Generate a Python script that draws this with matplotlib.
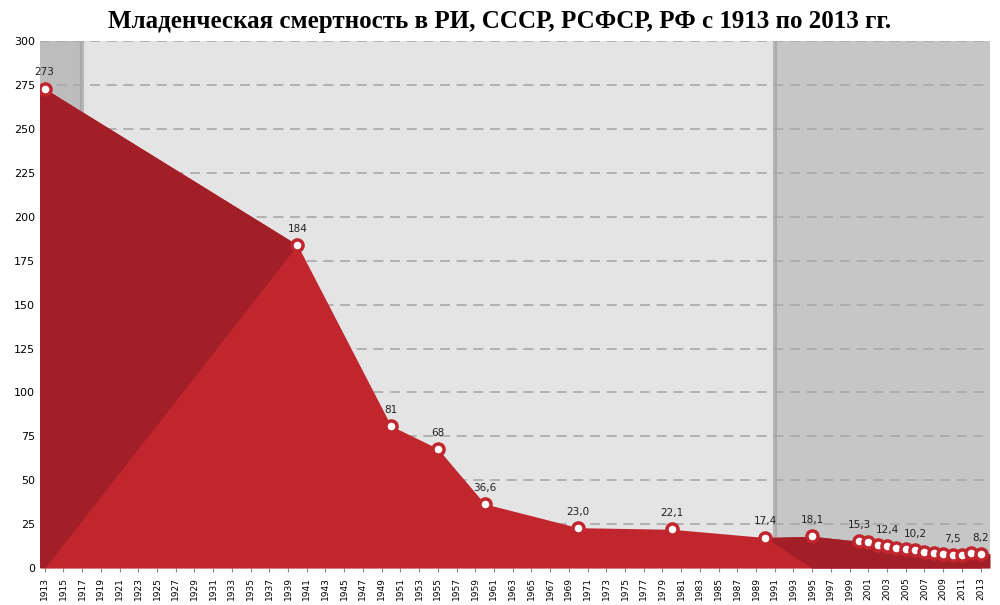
import matplotlib
matplotlib.use("Agg")
import matplotlib.pyplot as plt
import numpy as np

years = [1913, 1940, 1950, 1955, 1960, 1970, 1980, 1990, 1995,
         2000, 2001, 2002, 2003, 2004, 2005, 2006, 2007, 2008, 2009, 2010, 2011, 2012, 2013]
values = [273, 184, 81, 68, 36.6, 23.0, 22.1, 17.4, 18.1,
          15.3, 14.6, 13.3, 12.4, 11.6, 11.0, 10.2, 9.4, 8.5, 8.1, 7.5, 7.4, 8.6, 8.2]
labels = {1913: "273", 1940: "184", 1950: "81", 1955: "68", 1960: "36,6", 1970: "23,0",
          1980: "22,1", 1990: "17,4", 1995: "18,1", 2000: "15,3", 2003: "12,4",
          2006: "10,2", 2010: "7,5", 2013: "8,2"}

fig = plt.figure(figsize=(10, 6.05), dpi=100)
fig.patch.set_facecolor("white")
ax = fig.add_axes([0.040, 0.061, 0.950, 0.871])
ax.set_xlim(1912.5, 2014)
ax.set_ylim(0, 300)

ax.axvspan(1912.5, 1917, color="#bdbdbd", zorder=0)
ax.axvspan(1917, 1991, color="#e4e4e4", zorder=0)
ax.axvspan(1991, 2014, color="#c6c6c6", zorder=0)
ax.axvline(1917, color="#9a9a9a", lw=3, zorder=0.5, alpha=0.6)
ax.axvline(1991, color="#9a9a9a", lw=3, zorder=0.5, alpha=0.6)
for y in range(25, 301, 25):
    ax.axhline(y, color="#a8a8a8", lw=1.2, ls=(0, (6, 4)), zorder=1)

x = np.array(years, float); v = np.array(values)
ax.fill_between(x, v, color="#c1262f", zorder=2, lw=0)
xa = np.array([1912.5] + years + [2014]); va = np.array([values[0]] + values + [values[-1]])
ax.fill_between(xa, va, where=(xa <= 1917), interpolate=True, color="#a31f27", zorder=2.1, lw=0)
ax.fill_between(xa, va, where=(xa >= 1991), interpolate=True, color="#a31f27", zorder=2.1, lw=0)
ax.fill_between([1912.5, 1913], [273, 273], color="#a31f27", zorder=2.1, lw=0)

ax.plot(x, v, "o", ms=8, mfc="white", mec="#c1262f", mew=2.5, zorder=4)
for yr, t in labels.items():
    ax.annotate(t, (yr, values[years.index(yr)]), xytext=(0, 8), textcoords="offset points",
                ha="center", va="bottom", fontsize=7.5, color="#222", zorder=5)

ax.set_xticks(range(1913, 2014, 2))
ax.set_xticklabels([str(y) for y in range(1913, 2014, 2)], rotation=90, fontsize=6.5)
ax.set_yticks(range(0, 301, 25))
ax.tick_params(axis="y", labelsize=8, length=0)
ax.tick_params(axis="x", length=3, color="#888")
for s in ax.spines.values():
    s.set_visible(False)
fig.text(0.5, 0.965, "Младенческая смертность в РИ, СССР, РСФСР, РФ с 1913 по 2013 гг.",
         ha="center", va="center", fontsize=18, fontweight="bold", family="Liberation Serif")
fig.savefig("out.png", dpi=100)
